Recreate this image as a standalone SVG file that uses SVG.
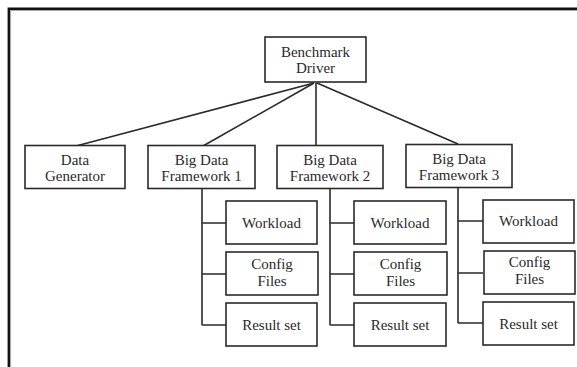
<svg xmlns="http://www.w3.org/2000/svg" width="577" height="367" viewBox="0 0 577 367">
<style>
.box{fill:#fff;stroke:#2a2a2a;stroke-width:1.6}
text{font-family:'Liberation Serif','Times New Roman','DejaVu Serif',serif;font-size:15px;fill:#2a2a2a;text-anchor:middle}
.c{fill:none;stroke:#2a2a2a;stroke-width:1.6}
</style>
<rect width="577" height="367" fill="#fff"/>
<g id="frame">
<path d="M10.5,367 V10.5 H577" fill="none" stroke="#aaa" stroke-width="1.2"/>
<path d="M8.8,367 V8.8 H577" fill="none" stroke="#111" stroke-width="2.4"/>
</g>
<g id="connectors">
<path class="c" d="M314,83 L76,146"/>
<path class="c" d="M314,83 L203,146"/>
<path class="c" d="M316,83 V145"/>
<path class="c" d="M317,83 L458,144"/>
<path class="c" d="M202,188 V325 M202,223 H226 M202,274 H226 M202,325 H226"/>
<path class="c" d="M330,188 V325 M330,223 H354 M330,274 H354 M330,325 H354"/>
<path class="c" d="M458,187 V323 M458,221 H483 M458,273 H483 M458,323 H483"/>
</g>
<g id="driver"><rect class="box" x="265" y="37" width="101" height="45"/><text x="315.5" y="56.5">Benchmark</text><text x="315.5" y="73">Driver</text></g>
<g id="datagen"><rect class="box" x="25" y="145.5" width="100" height="43"/><text x="75" y="165">Data</text><text x="75" y="181">Generator</text></g>
<g id="fw1"><rect class="box" x="148" y="145.5" width="107" height="43"/><text x="201.5" y="165">Big Data</text><text x="201.5" y="181">Framework 1</text></g>
<g id="fw2"><rect class="box" x="277" y="145.5" width="106" height="43"/><text x="330" y="165">Big Data</text><text x="330" y="181">Framework 2</text></g>
<g id="fw3"><rect class="box" x="406" y="144.5" width="106" height="43"/><text x="459" y="164">Big Data</text><text x="459" y="180">Framework 3</text></g>
<g id="fw1-workload"><rect class="box" x="226" y="201" width="91" height="43"/><text x="271.5" y="228">Workload</text></g>
<g id="fw1-config"><rect class="box" x="226" y="252" width="92" height="43"/><text x="272" y="269">Config</text><text x="272" y="286">Files</text></g>
<g id="fw1-result"><rect class="box" x="226" y="303" width="91" height="43"/><text x="271.5" y="330">Result set</text></g>
<g id="fw2-workload"><rect class="box" x="354" y="201" width="92" height="43"/><text x="400" y="228">Workload</text></g>
<g id="fw2-config"><rect class="box" x="354" y="252" width="93" height="43"/><text x="400.5" y="269">Config</text><text x="400.5" y="286">Files</text></g>
<g id="fw2-result"><rect class="box" x="354" y="303" width="92" height="43"/><text x="400" y="330">Result set</text></g>
<g id="fw3-workload"><rect class="box" x="483" y="200" width="91" height="43"/><text x="528.5" y="226">Workload</text></g>
<g id="fw3-config"><rect class="box" x="484" y="251" width="91" height="43"/><text x="529.5" y="267">Config</text><text x="529.5" y="284">Files</text></g>
<g id="fw3-result"><rect class="box" x="483" y="302" width="91" height="43"/><text x="528.5" y="329">Result set</text></g>
</svg>
